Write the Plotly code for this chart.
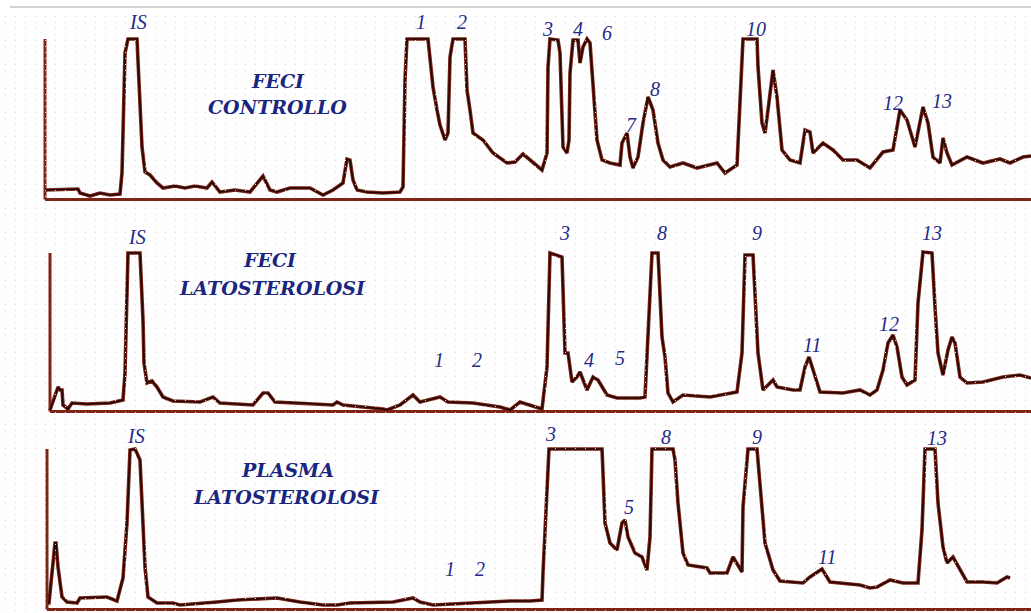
import plotly.graph_objects as go

# ---------------- data (retention position, signal height) ----------------
feci_ctrl_t = [45, 78, 80, 90, 100, 110, 120, 122, 125, 128, 137, 139, 142, 145, 150, 157, 163, 175, 185, 195,
               207, 212, 220, 235, 250, 263, 270, 277, 283, 290, 310, 323, 333, 343, 347, 350, 353, 357, 367, 383,
               400, 403, 405, 407, 428, 430, 433, 437, 440, 445, 448, 450, 453, 465, 467, 470, 473, 483, 493, 507,
               515, 523, 530, 542, 547, 548, 550, 558, 560, 562, 563, 567, 569, 570, 573, 578, 580, 583, 587, 590,
               593, 597, 602, 610, 620, 622, 627, 630, 633, 638, 643, 648, 653, 658, 663, 670, 683, 697, 717, 725,
               737, 740, 743, 757, 758, 762, 765, 768, 773, 777, 782, 790, 800, 805, 810, 813, 823, 833, 843, 857,
               870, 883, 893, 900, 907, 915, 920, 923, 928, 933, 940, 943, 947, 952, 967, 983, 1000, 1010, 1023, 1031]
feci_ctrl_h = [9, 10, 6, 3, 6, 4, 5, 26, 146, 160, 160, 119, 52, 27, 24, 16, 11, 13, 11, 13,
               11, 17, 7, 9, 7, 23, 9, 7, 9, 11, 11, 4, 9, 16, 40, 39, 19, 9, 7, 6,
               7, 12, 119, 160, 160, 139, 112, 89, 74, 59, 66, 142, 160, 160, 109, 89, 66, 59, 46, 36,
               37, 45, 39, 29, 46, 132, 160, 159, 146, 92, 52, 46, 59, 126, 159, 159, 136, 152, 160, 156,
               112, 59, 39, 36, 34, 56, 66, 42, 31, 42, 76, 102, 89, 56, 39, 32, 36, 31, 36, 26,
               34, 92, 160, 160, 132, 76, 66, 89, 129, 102, 49, 39, 36, 69, 67, 46, 56, 49, 39, 39,
               31, 47, 49, 89, 79, 52, 76, 92, 76, 42, 36, 61, 46, 34, 42, 36, 40, 36, 42, 43]

feci_lat_t = [50, 55, 58, 60, 62, 63, 68, 72, 87, 110, 123, 125, 128, 140, 143, 144, 147, 152, 157, 163,
              173, 200, 213, 220, 253, 263, 268, 275, 300, 333, 337, 343, 383, 387, 400, 413, 420, 440, 448, 473,
              500, 510, 520, 530, 542, 547, 550, 562, 565, 568, 572, 577, 580, 587, 593, 598, 607, 617, 640, 645,
              648, 652, 658, 662, 665, 668, 673, 683, 710, 737, 742, 745, 753, 756, 758, 763, 773, 777, 793, 800,
              805, 809, 813, 820, 843, 860, 870, 877, 883, 888, 893, 897, 902, 907, 915, 918, 923, 932, 935, 938,
              943, 948, 952, 955, 960, 967, 983, 1003, 1020, 1031]
feci_lat_h = [1, 14, 24, 21, 21, 6, 2, 8, 7, 8, 11, 38, 158, 158, 91, 48, 28, 30, 24, 14,
              10, 9, 14, 8, 6, 18, 18, 9, 8, 6, 9, 6, 2, 1, 6, 16, 9, 14, 9, 8,
              4, 1, 9, 6, 2, 44, 158, 154, 58, 58, 29, 34, 39, 21, 34, 31, 16, 13, 13, 14,
              71, 158, 158, 74, 54, 18, 9, 16, 14, 19, 58, 156, 156, 101, 58, 21, 31, 24, 21, 21,
              44, 54, 41, 19, 18, 21, 16, 21, 41, 68, 76, 64, 34, 26, 31, 108, 159, 158, 104, 58,
              36, 61, 74, 68, 34, 28, 29, 34, 36, 33]

plasma_lat_t = [48, 49, 53, 55, 56, 58, 62, 67, 77, 80, 107, 117, 123, 127, 130, 135, 140, 143, 145, 148,
                157, 173, 180, 217, 237, 277, 300, 323, 337, 350, 393, 413, 420, 433, 467, 487, 510, 530, 542, 543,
                547, 549, 602, 603, 605, 610, 617, 622, 625, 628, 635, 642, 647, 650, 652, 673, 675, 678, 683, 688,
                707, 710, 727, 733, 738, 742, 743, 748, 757, 760, 765, 773, 780, 803, 810, 822, 830, 860, 870, 877,
                890, 903, 918, 922, 925, 935, 938, 943, 947, 953, 960, 967, 983, 997, 1007, 1010]
plasma_lat_h = [6, 6, 46, 66, 66, 42, 12, 7, 6, 11, 12, 8, 31, 86, 159, 160, 149, 82, 42, 12,
                6, 6, 4, 7, 9, 11, 7, 4, 4, 6, 7, 11, 7, 4, 6, 7, 8, 8, 9, 36,
                116, 160, 160, 141, 86, 66, 59, 86, 89, 72, 56, 52, 39, 72, 160, 160, 149, 106, 56, 44,
                41, 36, 36, 52, 44, 37, 102, 160, 160, 126, 66, 39, 28, 26, 32, 40, 27, 24, 21, 22,
                29, 26, 26, 79, 160, 160, 106, 62, 46, 52, 39, 27, 27, 26, 32, 31]

# peak labels per chromatogram
p1_labels = ["IS", "1", "2", "3", "4", "6", "7", "8", "10", "12", "13"]
p1_lab_t = [138, 421, 462, 547, 578, 607, 631, 655, 756, 893, 942]
p1_lab_h = [177, 177, 177, 170, 170, 166, 74, 110, 170, 96, 98]

p2_labels = ["IS", "1", "2", "3", "4", "5", "8", "9", "11", "12", "13"]
p2_lab_t = [137, 439, 477, 564, 589, 620, 662, 757, 812, 889, 932]
p2_lab_h = [174, 51, 51, 178, 51, 53, 178, 178, 66, 87, 178]

p3_labels = ["IS", "1", "2", "3", "5", "8", "9", "11", "13"]
p3_lab_t = [136, 450, 480, 550, 629, 666, 757, 827, 937]
p3_lab_h = [173, 40, 40, 175, 102, 172, 172, 52, 171]

titles = [("FECI", "CONTROLLO"), ("FECI", "LATOSTEROLOSI"), ("PLASMA", "LATOSTEROLOSI")]
title_t = [(278, 277), (270, 272), (287, 286)]
title_h = [(118, 92), (151, 123), (139, 112)]

# ---------------- layout geometry ----------------
W, H = 1031, 613
baselines = [199, 411, 609]
lefts = [45, 50, 47]
axis_top = [160, 158, 160]
y_lo, y_hi = -3, 190
LINE_OUT = "#7d2416"
LINE_IN = "#220604"
LAB = "#1f2a8a"

fig = go.Figure()

series = [(feci_ctrl_t, feci_ctrl_h), (feci_lat_t, feci_lat_h), (plasma_lat_t, plasma_lat_h)]
for i, (t, h) in enumerate(series):
    ax = "" if i == 0 else str(i + 1)
    fig.add_trace(go.Scatter(x=t, y=h, mode="lines", xaxis="x" + ax, yaxis="y" + ax,
                             line=dict(color=LINE_OUT, width=3.6), hoverinfo="skip", showlegend=False))
    fig.add_trace(go.Scatter(x=t, y=h, mode="lines", xaxis="x" + ax, yaxis="y" + ax,
                             line=dict(color=LINE_IN, width=1.6), hoverinfo="skip", showlegend=False))

# background dot grid subplot
fig.add_trace(go.Scatter(x=[0], y=[0], mode="markers", marker=dict(opacity=0), xaxis="x4", yaxis="y4",
                         hoverinfo="skip", showlegend=False))

layout = dict(width=W, height=H, margin=dict(l=0, r=0, t=0, b=0),
              paper_bgcolor="white", plot_bgcolor="rgba(0,0,0,0)", showlegend=False)

shapes = [dict(type="line", xref="paper", yref="paper", x0=10 / W, x1=1,
               y0=(H - 7) / H, y1=(H - 7) / H, line=dict(color="#c4c4c4", width=1.5))]

for i in range(3):
    ax = "" if i == 0 else str(i + 1)
    b = baselines[i]
    layout["xaxis" + ax] = dict(domain=[0, 1], range=[0, W], anchor="y" + ax,
                                showgrid=False, zeroline=False, showticklabels=False, ticks="",
                                showline=False)
    layout["yaxis" + ax] = dict(domain=[(H - b + y_lo) / H, (H - b + y_hi) / H], range=[y_lo, y_hi],
                                anchor="x" + ax, showgrid=False, zeroline=False, showticklabels=False,
                                ticks="", showline=False)
    # axis frame of each chromatogram (baseline and signal axis)
    shapes.append(dict(type="line", xref="x" + ax, yref="y" + ax, x0=lefts[i], x1=W, y0=-0.5, y1=-0.5,
                       line=dict(color=LINE_OUT, width=3), layer="below"))
    shapes.append(dict(type="line", xref="x" + ax, yref="y" + ax, x0=lefts[i], x1=lefts[i], y0=-0.5,
                       y1=axis_top[i], line=dict(color=LINE_OUT, width=3), layer="below"))

layout["xaxis4"] = dict(domain=[0, 1], range=[0, W], anchor="y4", showgrid=True, gridcolor="#bfe0e0",
                        griddash="1px,5px", gridwidth=1, tick0=15, dtick=10,
                        zeroline=False, showticklabels=False, ticks="", showline=False)
layout["yaxis4"] = dict(domain=[0, (H - 16) / H], range=[0, 1], anchor="x4", showgrid=False,
                        zeroline=False, showticklabels=False, ticks="", showline=False)

annotations = []
for i, (labs, lt, lh) in enumerate([(p1_labels, p1_lab_t, p1_lab_h),
                                    (p2_labels, p2_lab_t, p2_lab_h),
                                    (p3_labels, p3_lab_t, p3_lab_h)]):
    ax = "" if i == 0 else str(i + 1)
    for s, t, h in zip(labs, lt, lh):
        annotations.append(dict(x=t, y=h, xref="x" + ax, yref="y" + ax, text=s, showarrow=False,
                                font=dict(family="Liberation Serif", size=20, color=LAB, style="italic")))
    for s, t, h in zip(titles[i], title_t[i], title_h[i]):
        annotations.append(dict(x=t, y=h, xref="x" + ax, yref="y" + ax, text=s, showarrow=False,
                                font=dict(family="DejaVu Serif", size=19, color="#1a2580",
                                          style="italic", weight="bold")))
layout["annotations"] = annotations
layout["shapes"] = shapes

fig.update_layout(**layout)
fig.write_html("out.html")
